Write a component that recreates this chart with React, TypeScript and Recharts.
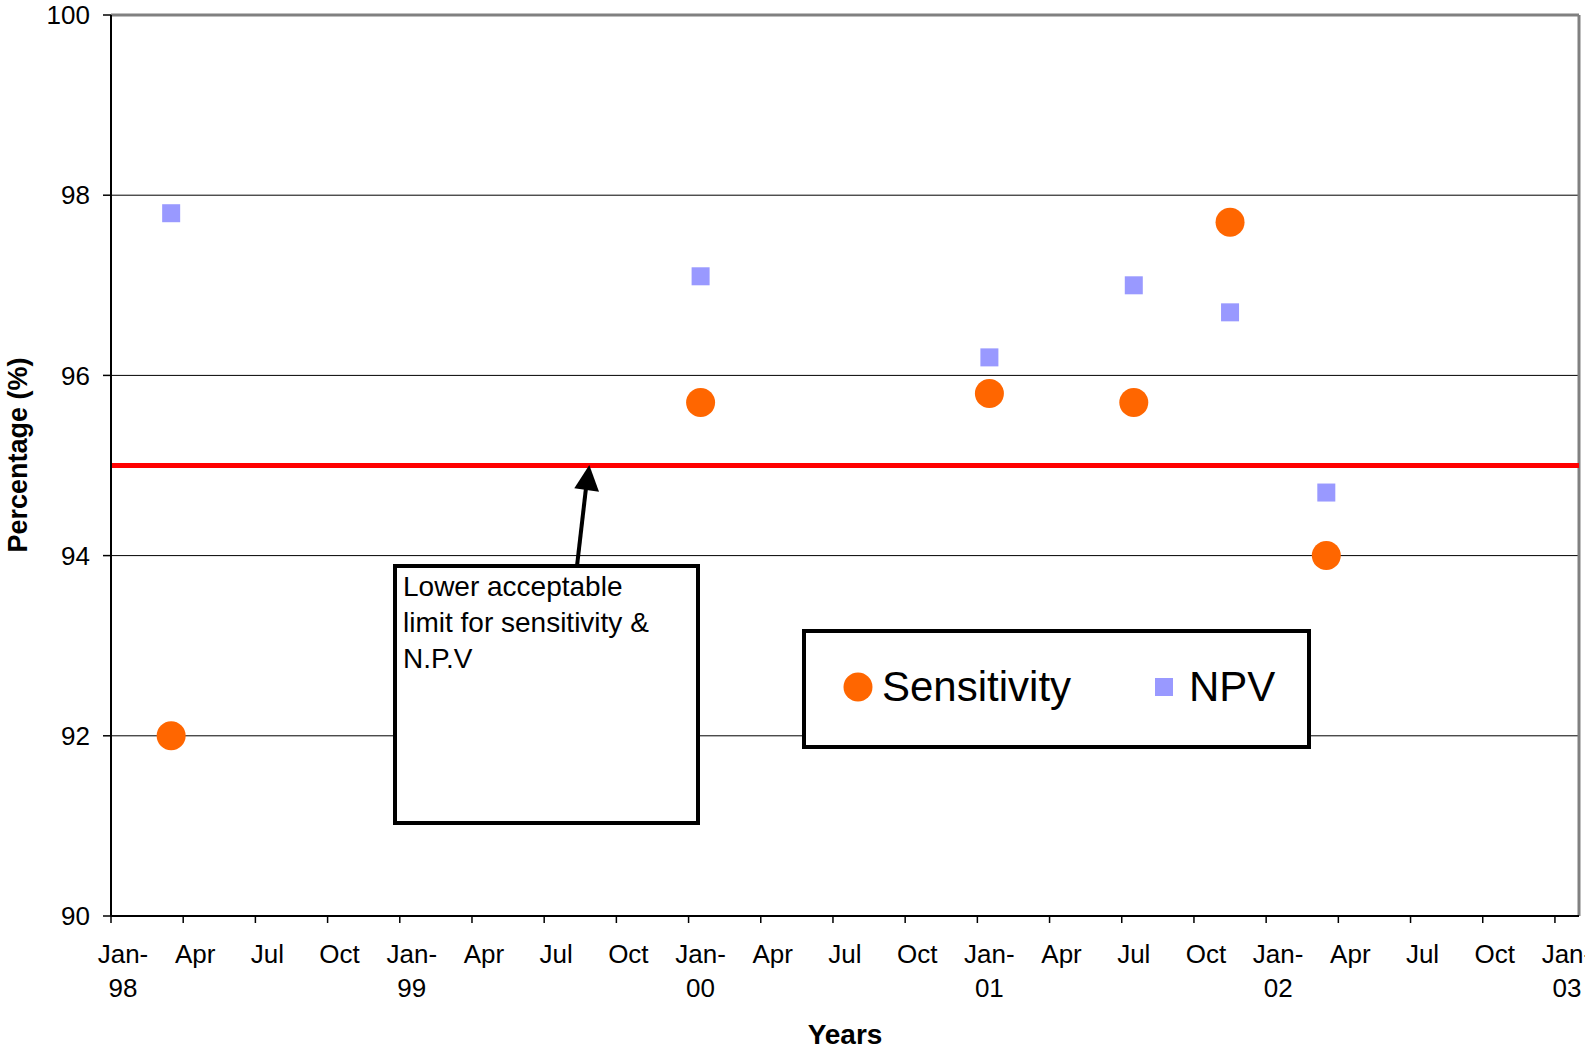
import React from 'react';
import {
  ScatterChart,
  Scatter,
  XAxis,
  YAxis,
  CartesianGrid,
  ReferenceLine,
  Legend,
} from 'recharts';

// sampling dates (mid-month)
const SAMPLE_DATES = [
  '1998-03-16',
  '2000-01-16',
  '2001-01-16',
  '2001-07-16',
  '2001-11-16',
  '2002-03-16',
];
const SENSITIVITY = [92.0, 95.7, 95.8, 95.7, 97.7, 94.0];
const NPV = [97.8, 97.1, 96.2, 97.0, 96.7, 94.7];
const LOWER_LIMIT = 95;

const QUARTER_LABELS = ['Jan-', 'Apr', 'Jul', 'Oct'];
const YEAR_LABELS = ['98', '99', '00', '01', '02', '03'];
const X_TICKS = [0, 3, 6, 9, 12, 15, 18, 21, 24, 27, 30, 33, 36, 39, 42, 45, 48, 51, 54, 57, 60];
const Y_TICKS = [90, 92, 94, 96, 98, 100];

const FONT = '"Liberation Sans", Arial, sans-serif';
const ORANGE = '#FF6600';
const LILAC = '#9999FF';

// months since Jan 1998
const toMonth = (s: string) => {
  const [y, m, d] = s.split('-').map(Number);
  return (y - 1998) * 12 + (m - 1) + (d - 1) / 30;
};

const sensData = SAMPLE_DATES.map((d, i) => ({ m: toMonth(d), v: SENSITIVITY[i] }));
const npvData = SAMPLE_DATES.map((d, i) => ({ m: toMonth(d), v: NPV[i] }));

const XTick = (props: any) => {
  const { x, y, payload } = props;
  const idx = Math.round(payload.value / 3);
  const q = QUARTER_LABELS[idx % 4];
  const isJan = idx % 4 === 0;
  return (
    <text
      x={x + 12}
      y={y}
      textAnchor="middle"
      fontFamily={FONT}
      fontSize={26}
      fill="#000"
    >
      <tspan x={x + 12} dy={40}>
        {q}
      </tspan>
      {isJan && (
        <tspan x={x + 12} dy={34}>
          {YEAR_LABELS[idx / 4]}
        </tspan>
      )}
    </text>
  );
};

const Circle = (props: any) => (
  <circle cx={props.cx} cy={props.cy} r={14.5} fill={ORANGE} />
);

const Square = (props: any) => (
  <rect x={props.cx - 9} y={props.cy - 9} width={18} height={18} fill={LILAC} />
);

const LegendBox = () => (
  <svg width={509} height={120} style={{ display: 'block' }}>
    <rect x={2} y={2} width={505} height={116} fill="#fff" stroke="#000" strokeWidth={4} />
    <circle cx={56} cy={58} r={14.5} fill={ORANGE} />
    <text x={80} y={72} fontFamily={FONT} fontSize={42} fill="#000">
      Sensitivity
    </text>
    <rect x={353} y={49} width={18} height={18} fill={LILAC} />
    <text x={387} y={72} fontFamily={FONT} fontSize={42} fill="#000">
      NPV
    </text>
  </svg>
);

export default function App() {
  return (
    <div style={{ position: 'absolute', left: 0, top: 0, width: 1585, height: 1049, background: '#fff' }}>
      <ScatterChart
        width={1585}
        height={1049}
        margin={{ top: 15, right: 6, bottom: 43, left: 11 }}
      >
        <CartesianGrid vertical={false} stroke="#000" strokeWidth={1} />
        <XAxis
          type="number"
          dataKey="m"
          domain={[0, 61]}
          ticks={X_TICKS}
          interval={0}
          height={90}
          tickSize={7}
          tickMargin={0}
          tick={<XTick />}
          axisLine={{ stroke: '#000', strokeWidth: 2 }}
          tickLine={{ stroke: '#000', strokeWidth: 1.5 }}
          allowDataOverflow
        />
        <YAxis
          type="number"
          dataKey="v"
          domain={[90, 100]}
          ticks={Y_TICKS}
          interval={0}
          width={100}
          tickSize={8}
          tickMargin={13}
          tick={{ fill: '#000', fontSize: 26, fontFamily: FONT }}
          axisLine={{ stroke: '#000', strokeWidth: 2 }}
          tickLine={{ stroke: '#000', strokeWidth: 1.5 }}
        />
        <ReferenceLine y={100} stroke="#808080" strokeWidth={3} />
        <ReferenceLine x={61} stroke="#808080" strokeWidth={3} />
        <ReferenceLine y={LOWER_LIMIT} stroke="#FF0000" strokeWidth={5} />
        <Scatter
          name="Sensitivity"
          data={sensData}
          shape={<Circle />}
          fill={ORANGE}
          isAnimationActive={false}
        />
        <Scatter
          name="NPV"
          data={npvData}
          shape={<Square />}
          fill={LILAC}
          isAnimationActive={false}
        />
        <Legend
          layout="horizontal"
          verticalAlign="middle"
          align="center"
          content={() => <LegendBox />}
          wrapperStyle={{ left: 802, top: 629, width: 509, height: 120 }}
        />
      </ScatterChart>

      {/* annotation + axis titles */}
      <svg
        width={1585}
        height={1049}
        style={{ position: 'absolute', left: 0, top: 0, pointerEvents: 'none' }}
      >
        <rect x={395} y={566} width={303} height={257} fill="#fff" stroke="#000" strokeWidth={4} />
        <g fontFamily={FONT} fontSize={28} fill="#000">
          <text x={403} y={596}>Lower acceptable</text>
          <text x={403} y={632}>limit for sensitivity &amp;</text>
          <text x={403} y={668}>N.P.V</text>
        </g>
        <line x1={577} y1={566} x2={586} y2={488} stroke="#000" strokeWidth={4} />
        <polygon points="589.3,465 574.3,488.3 599,491.7" fill="#000" />
        <text
          x={845}
          y={1044}
          textAnchor="middle"
          fontFamily={FONT}
          fontWeight="bold"
          fontSize={28}
          fill="#000"
        >
          Years
        </text>
        <text
          transform="translate(27,455) rotate(-90)"
          textAnchor="middle"
          fontFamily={FONT}
          fontWeight="bold"
          fontSize={27}
          fill="#000"
        >
          Percentage (%)
        </text>
      </svg>
    </div>
  );
}
